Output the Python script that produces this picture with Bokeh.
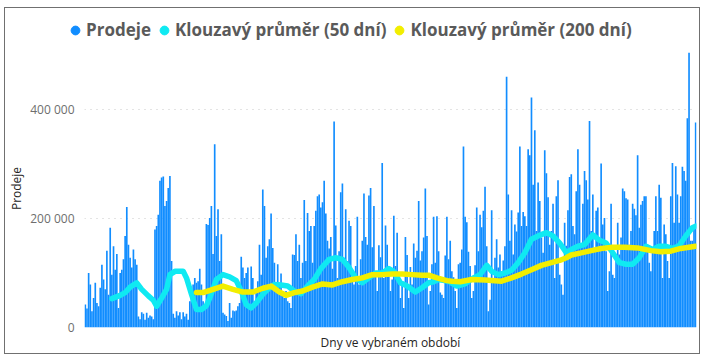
from bokeh.plotting import figure
from bokeh.layouts import column
from bokeh.models import Range1d, FixedTicker, Legend, LegendItem
from bokeh.embed import file_html
from bokeh.resources import INLINE

# Daily sales (thousands), grouped in sections
prodeje_1 = [42, 35, 100, 79, 30, 54, 82, 45, 39, 73,
             115, 88, 70, 141, 60, 183, 97, 149, 106, 135,
             36, 100, 106, 125, 168, 221, 152, 128, 110, 143,
             125, 115, 20, 15, 28, 25, 14, 27, 18, 22,
             20, 15, 180, 186, 207, 269, 275, 277, 223, 232,
             256, 278, 122, 25, 18, 30, 22, 28, 15, 28,
             20, 25, 14, 48, 54, 79, 91, 82, 85, 108,
             79, 48, 35, 190]
prodeje_2 = [188, 201, 223, 135, 336, 168, 217, 122, 171, 27,
             24, 21, 12, 45, 18, 31, 30, 31, 39, 45,
             130, 110, 91, 100, 110, 67, 112, 91, 48, 67,
             85, 152, 97, 253, 223, 128, 149, 162, 209, 146,
             119, 79, 116, 82, 99, 64, 54, 67, 48, 45,
             36, 134, 133, 171, 122, 152, 91, 119, 234, 122,
             210, 177, 186, 119, 186, 214, 241, 244, 220, 230,
             269, 209]
prodeje_3 = [159, 145, 166, 108, 378, 187, 91, 140, 248, 264,
             128, 217, 122, 196, 186, 91, 79, 113, 203, 79,
             125, 159, 246, 166, 152, 242, 256, 147, 223, 97,
             67, 151, 129, 302, 91, 187, 152, 97, 67, 88,
             205, 113, 174, 91, 54, 85, 36, 166, 133, 54,
             111, 79, 154, 128, 141, 232, 123, 140, 165, 255,
             168, 42, 67, 116, 203, 119, 204, 140, 64, 60,
             54, 132]
prodeje_4 = [203, 125, 159, 103, 92, 67, 36, 116, 119, 143,
             332, 203, 193, 139, 113, 54, 67, 114, 220, 140,
             207, 184, 214, 258, 149, 30, 51, 215, 91, 128,
             162, 110, 134, 103, 123, 149, 460, 244, 159, 215,
             134, 189, 176, 211, 332, 186, 212, 204, 186, 327,
             316, 422, 262, 362, 177, 266, 232, 165, 137, 325,
             283, 239, 152, 177, 227, 91, 241, 270, 97, 79,
             60, 192]
prodeje_5 = [150, 215, 276,
             281, 186, 171, 250, 327, 262, 152, 227, 287, 270,
             235, 379, 177, 244, 140, 214, 220, 159, 301, 189,
             201, 140, 67, 103, 227, 97, 91, 122, 192, 134,
             165, 255, 250, 237, 235, 152, 177, 227, 218, 206,
             316, 183, 225, 232, 241, 241, 152, 119, 103, 146,
             177, 241, 177, 262, 238, 91, 189, 171, 122, 91,
             241, 302, 192, 296, 244, 192, 241, 295, 287, 269,
             384, 504, 159, 159, 186, 376]

# Moving averages (thousands)
ma50_den = [16, 21, 24, 27, 31, 34, 38, 41, 43, 46, 49, 51, 54, 59, 61, 64, 67, 70, 73, 75,
            79, 83, 87, 91, 94, 97, 100, 103, 107, 111, 114, 118, 122, 126, 130, 134, 138, 142, 147, 151,
            155, 159, 163, 167, 171, 175, 179, 183, 186, 190, 194, 199, 203, 207, 210, 213, 219, 224, 229, 234,
            238, 242, 245, 249, 253, 257, 261, 265, 269, 273, 278, 282, 286, 290, 293, 297, 301, 306, 310, 314,
            318, 322, 326, 330, 334, 338, 342, 346, 350, 354, 358, 362, 366, 368]
ma50_tis = [53, 59, 64, 74, 82, 70, 58, 50, 39, 54, 70, 97, 103, 103, 91, 61, 33, 33, 40, 54,
            88, 97, 93, 86, 67, 42, 36, 45, 61, 73, 79, 78, 76, 67, 62, 76, 88, 108, 125, 128,
            125, 110, 91, 82, 91, 100, 100, 108, 103, 82, 76, 65, 73, 82, 84, 88, 85, 76, 80, 91,
            97, 114, 103, 97, 100, 105, 119, 137, 162, 168, 174, 168, 155, 137, 143, 149, 152, 170, 160, 155,
            137, 119, 116, 116, 128, 149, 143, 149, 149, 145, 150, 168, 183, 186]
ma200_den = [67, 71, 77, 83, 89, 95, 101, 107, 112, 117, 121, 126, 131, 137, 143, 149, 155, 161, 167, 173,
             179, 185, 191, 197, 203, 207, 212, 218, 221, 226, 233, 241, 251, 257, 263, 269, 275, 281, 286, 290,
             293, 299, 305, 311, 317, 325, 333, 341, 347, 353, 359, 368]
ma200_tis = [64, 64, 70, 76, 70, 65, 65, 72, 76, 65, 59, 64, 67, 74, 80, 78, 84, 88, 91, 97,
             97, 98, 98, 97, 96, 96, 91, 86, 85, 84, 88, 87, 85, 91, 98, 106, 114, 119, 123, 128,
             133, 137, 141, 145, 147, 147, 146, 141, 139, 140, 145, 149]

y_ticks = [0, 200000, 400000]
y_tick_labels = ["0", "200 000", "400 000"]
legend_labels = ["Prodeje", "Klouzavý průměr (50 dní)", "Klouzavý průměr (200 dní)"]

prodeje_tis = prodeje_1 + prodeje_2 + prodeje_3 + prodeje_4 + prodeje_5
dny = list(range(len(prodeje_tis)))
prodeje = [v * 1000 for v in prodeje_tis]
ma50 = [v * 1000 for v in ma50_tis]
ma200 = [v * 1000 for v in ma200_tis]

BLUE = "#118DFF"
CYAN = "#0FEAF2"
YELLOW = "#F2EE00"
W = 694
NAN = float("nan")

# ---------- legend strip ----------
leg = figure(width=W, height=41, output_backend="svg", toolbar_location=None,
             x_range=Range1d(0, W), y_range=Range1d(0, 41),
             min_border_left=0, min_border_right=0, min_border_top=0, min_border_bottom=0,
             x_axis_location=None, y_axis_location=None)
leg.grid.visible = False
leg.outline_line_color = None
leg.background_fill_color = "white"
leg.border_fill_color = "white"
proxies = [leg.scatter(x=[NAN], y=[NAN], marker="circle", color=c) for c in (BLUE, CYAN, YELLOW)]
legend = Legend(items=[LegendItem(label=t, renderers=[r]) for t, r in zip(legend_labels, proxies)],
                orientation="horizontal", location=(59, 8),
                glyph_width=22, glyph_height=22, label_standoff=-3, spacing=2,
                padding=0, margin=0, border_line_color=None, background_fill_alpha=0,
                label_text_font="Open Sans", label_text_font_size="17px",
                label_text_font_style="bold", label_text_color="#5A5A5A",
                label_text_baseline="middle")
leg.add_layout(legend)

# ---------- main chart ----------
p = figure(width=W, height=304, output_backend="svg", toolbar_location=None,
           x_range=Range1d(-0.5, len(dny) - 0.5), y_range=Range1d(0, 510000),
           min_border_left=77, min_border_right=3, min_border_top=0, min_border_bottom=25)
p.outline_line_color = None
p.background_fill_color = "white"
p.border_fill_color = "white"

for fig in (leg, p):
    try:
        fig.frame_align = False
    except AttributeError:
        pass

p.vbar(x=dny, top=prodeje, width=1.0, color=BLUE, line_width=0)
p.line(ma50_den, ma50, line_width=5.5, color=CYAN, line_join="round", line_cap="round")
p.line(ma200_den, ma200, line_width=5.5, color=YELLOW, line_join="round", line_cap="round")

p.xgrid.visible = False
p.ygrid.ticker = FixedTicker(ticks=y_ticks)
p.ygrid.grid_line_color = "#C8C8C8"
p.ygrid.grid_line_dash = "1 5"
p.ygrid.grid_line_width = 1

p.yaxis.ticker = FixedTicker(ticks=y_ticks)
p.yaxis.major_label_overrides = dict(zip(y_ticks, y_tick_labels))
p.yaxis.axis_line_color = None
p.yaxis.major_tick_line_color = None
p.yaxis.minor_tick_line_color = None
p.yaxis.major_tick_out = 0
p.yaxis.minor_tick_out = 0
p.yaxis.major_label_standoff = 10
p.yaxis.major_label_text_font = "Open Sans"
p.yaxis.major_label_text_font_size = "12px"
p.yaxis.major_label_text_color = "#6E6E6E"
p.yaxis.axis_label = "Prodeje"
p.yaxis.axis_label_standoff = 2
p.yaxis.axis_label_text_font = "Open Sans"
p.yaxis.axis_label_text_font_size = "12px"
p.yaxis.axis_label_text_font_style = "normal"
p.yaxis.axis_label_text_color = "#252423"

p.xaxis.ticker = FixedTicker(ticks=[])
p.xaxis.axis_line_color = None
p.xaxis.major_tick_line_color = None
p.xaxis.minor_tick_line_color = None
p.xaxis.major_tick_out = 0
p.xaxis.minor_tick_out = 0
p.xaxis.major_label_standoff = 0
p.xaxis.axis_label = "Dny ve vybraném období"
p.xaxis.axis_label_standoff = 6
p.xaxis.axis_label_text_font = "Open Sans"
p.xaxis.axis_label_text_font_size = "12px"
p.xaxis.axis_label_text_font_style = "normal"
p.xaxis.axis_label_text_color = "#252423"

layout = column(leg, p, spacing=0)
layout.styles = {"border": "1px solid #707070", "margin": "7px 0px 0px 4px"}

open("out.html", "w").write(file_html(layout, INLINE))
